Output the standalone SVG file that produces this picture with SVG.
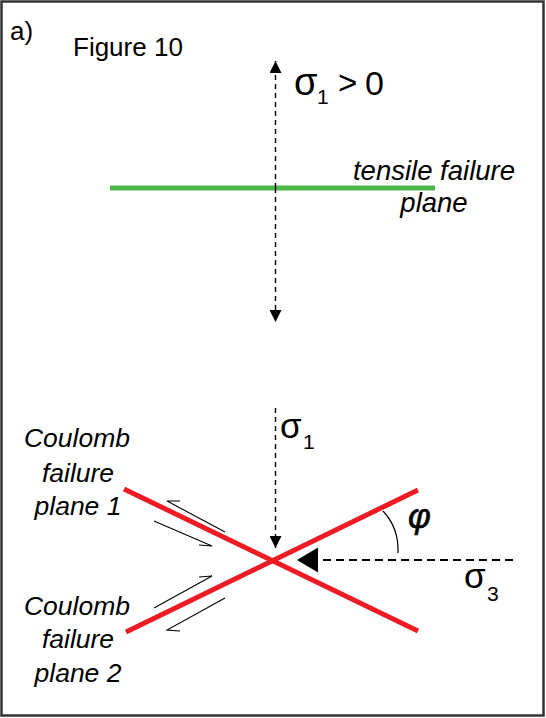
<svg xmlns="http://www.w3.org/2000/svg" width="546" height="718" viewBox="0 0 546 718">
<style>
.t{font-family:"Liberation Sans",Arial,sans-serif;fill:#000}
.i{font-style:italic}
.dash{stroke:#000;stroke-width:1.4;stroke-dasharray:5 4;fill:none}
.slip{stroke:#000;stroke-width:1.1;fill:none}
.red{stroke:#ED1C24;stroke-width:5;fill:none}
</style>
<defs>
<marker id="ah" viewBox="0 0 12 12" refX="12" refY="6" markerWidth="12" markerHeight="12" markerUnits="userSpaceOnUse" orient="auto">
<path d="M0,0 L12,6 L0,12 Z" fill="#000"/>
</marker>
</defs>
<rect x="1.5" y="1.5" width="542" height="714" fill="#fff" stroke="#333" stroke-width="2.5"/>
<text class="t" x="10" y="40" font-size="26">a)</text>
<text class="t" x="73" y="56" font-size="26" fill="#222">Figure 10</text>

<g id="tensile-plane">
<line x1="110" y1="188" x2="435" y2="188" stroke="#4DB848" stroke-width="5"/>
<text class="t i" x="434" y="180" font-size="27.5" text-anchor="middle">tensile failure</text>
<text class="t i" x="434" y="212" font-size="27.5" text-anchor="middle">plane</text>
</g>

<g id="sigma1-tension-label">
<text class="t" x="294" y="95" font-size="38">σ</text>
<text class="t" x="317" y="104" font-size="21">1</text>
<text class="t" x="338" y="94" font-size="33">&gt;</text>
<text class="t" x="365" y="95" font-size="34">0</text>
</g>

<g id="coulomb-plane-1">
<line class="red" x1="124" y1="489" x2="418" y2="631"/>
<text class="t i" x="77" y="447" font-size="26.5" text-anchor="middle">Coulomb</text>
<text class="t i" x="78" y="482" font-size="26.5" text-anchor="middle">failure</text>
<text class="t i" x="78" y="515" font-size="26.5" text-anchor="middle">plane 1</text>
</g>

<g id="coulomb-plane-2">
<line class="red" x1="126" y1="632" x2="418" y2="490"/>
<text class="t i" x="77" y="615" font-size="26.5" text-anchor="middle">Coulomb</text>
<text class="t i" x="78" y="648" font-size="26.5" text-anchor="middle">failure</text>
<text class="t i" x="78" y="682" font-size="26.5" text-anchor="middle">plane 2</text>
</g>

<g id="sigma1-label">
<text class="t" x="280" y="438" font-size="35">σ</text>
<text class="t" x="303" y="449" font-size="21">1</text>
</g>

<g id="sigma3-label">
<text class="t" x="464" y="588" font-size="35">σ</text>
<text class="t" x="487" y="601" font-size="21">3</text>
</g>

<g id="phi-label">
<path d="M383,511 Q399,528 398,553" stroke="#000" stroke-width="1.2" fill="none"/>
<text class="t i" x="408" y="528" font-size="35" stroke="#000" stroke-width="0.6">φ</text>
</g>

<g id="connectors">
<line class="dash" x1="275.5" y1="188" x2="275.5" y2="61" marker-end="url(#ah)"/>
<line class="dash" x1="275.5" y1="188" x2="275.5" y2="322" marker-end="url(#ah)"/>
<line class="dash" x1="275.5" y1="408" x2="275.5" y2="548" marker-end="url(#ah)"/>
<line x1="513" y1="560" x2="318" y2="560" stroke="#000" stroke-width="2" stroke-dasharray="8 5"/>
<path d="M297,560 L318,547.5 L318,572.5 Z" fill="#000"/>
<path class="slip" d="M225,532 L167,501 L180,501"/>
<path class="slip" d="M154,521 L212,546 L199,545"/>
<path class="slip" d="M154,608 L212,576 L199,577"/>
<path class="slip" d="M225,598 L167,630 L180,631"/>
</g>
</svg>
